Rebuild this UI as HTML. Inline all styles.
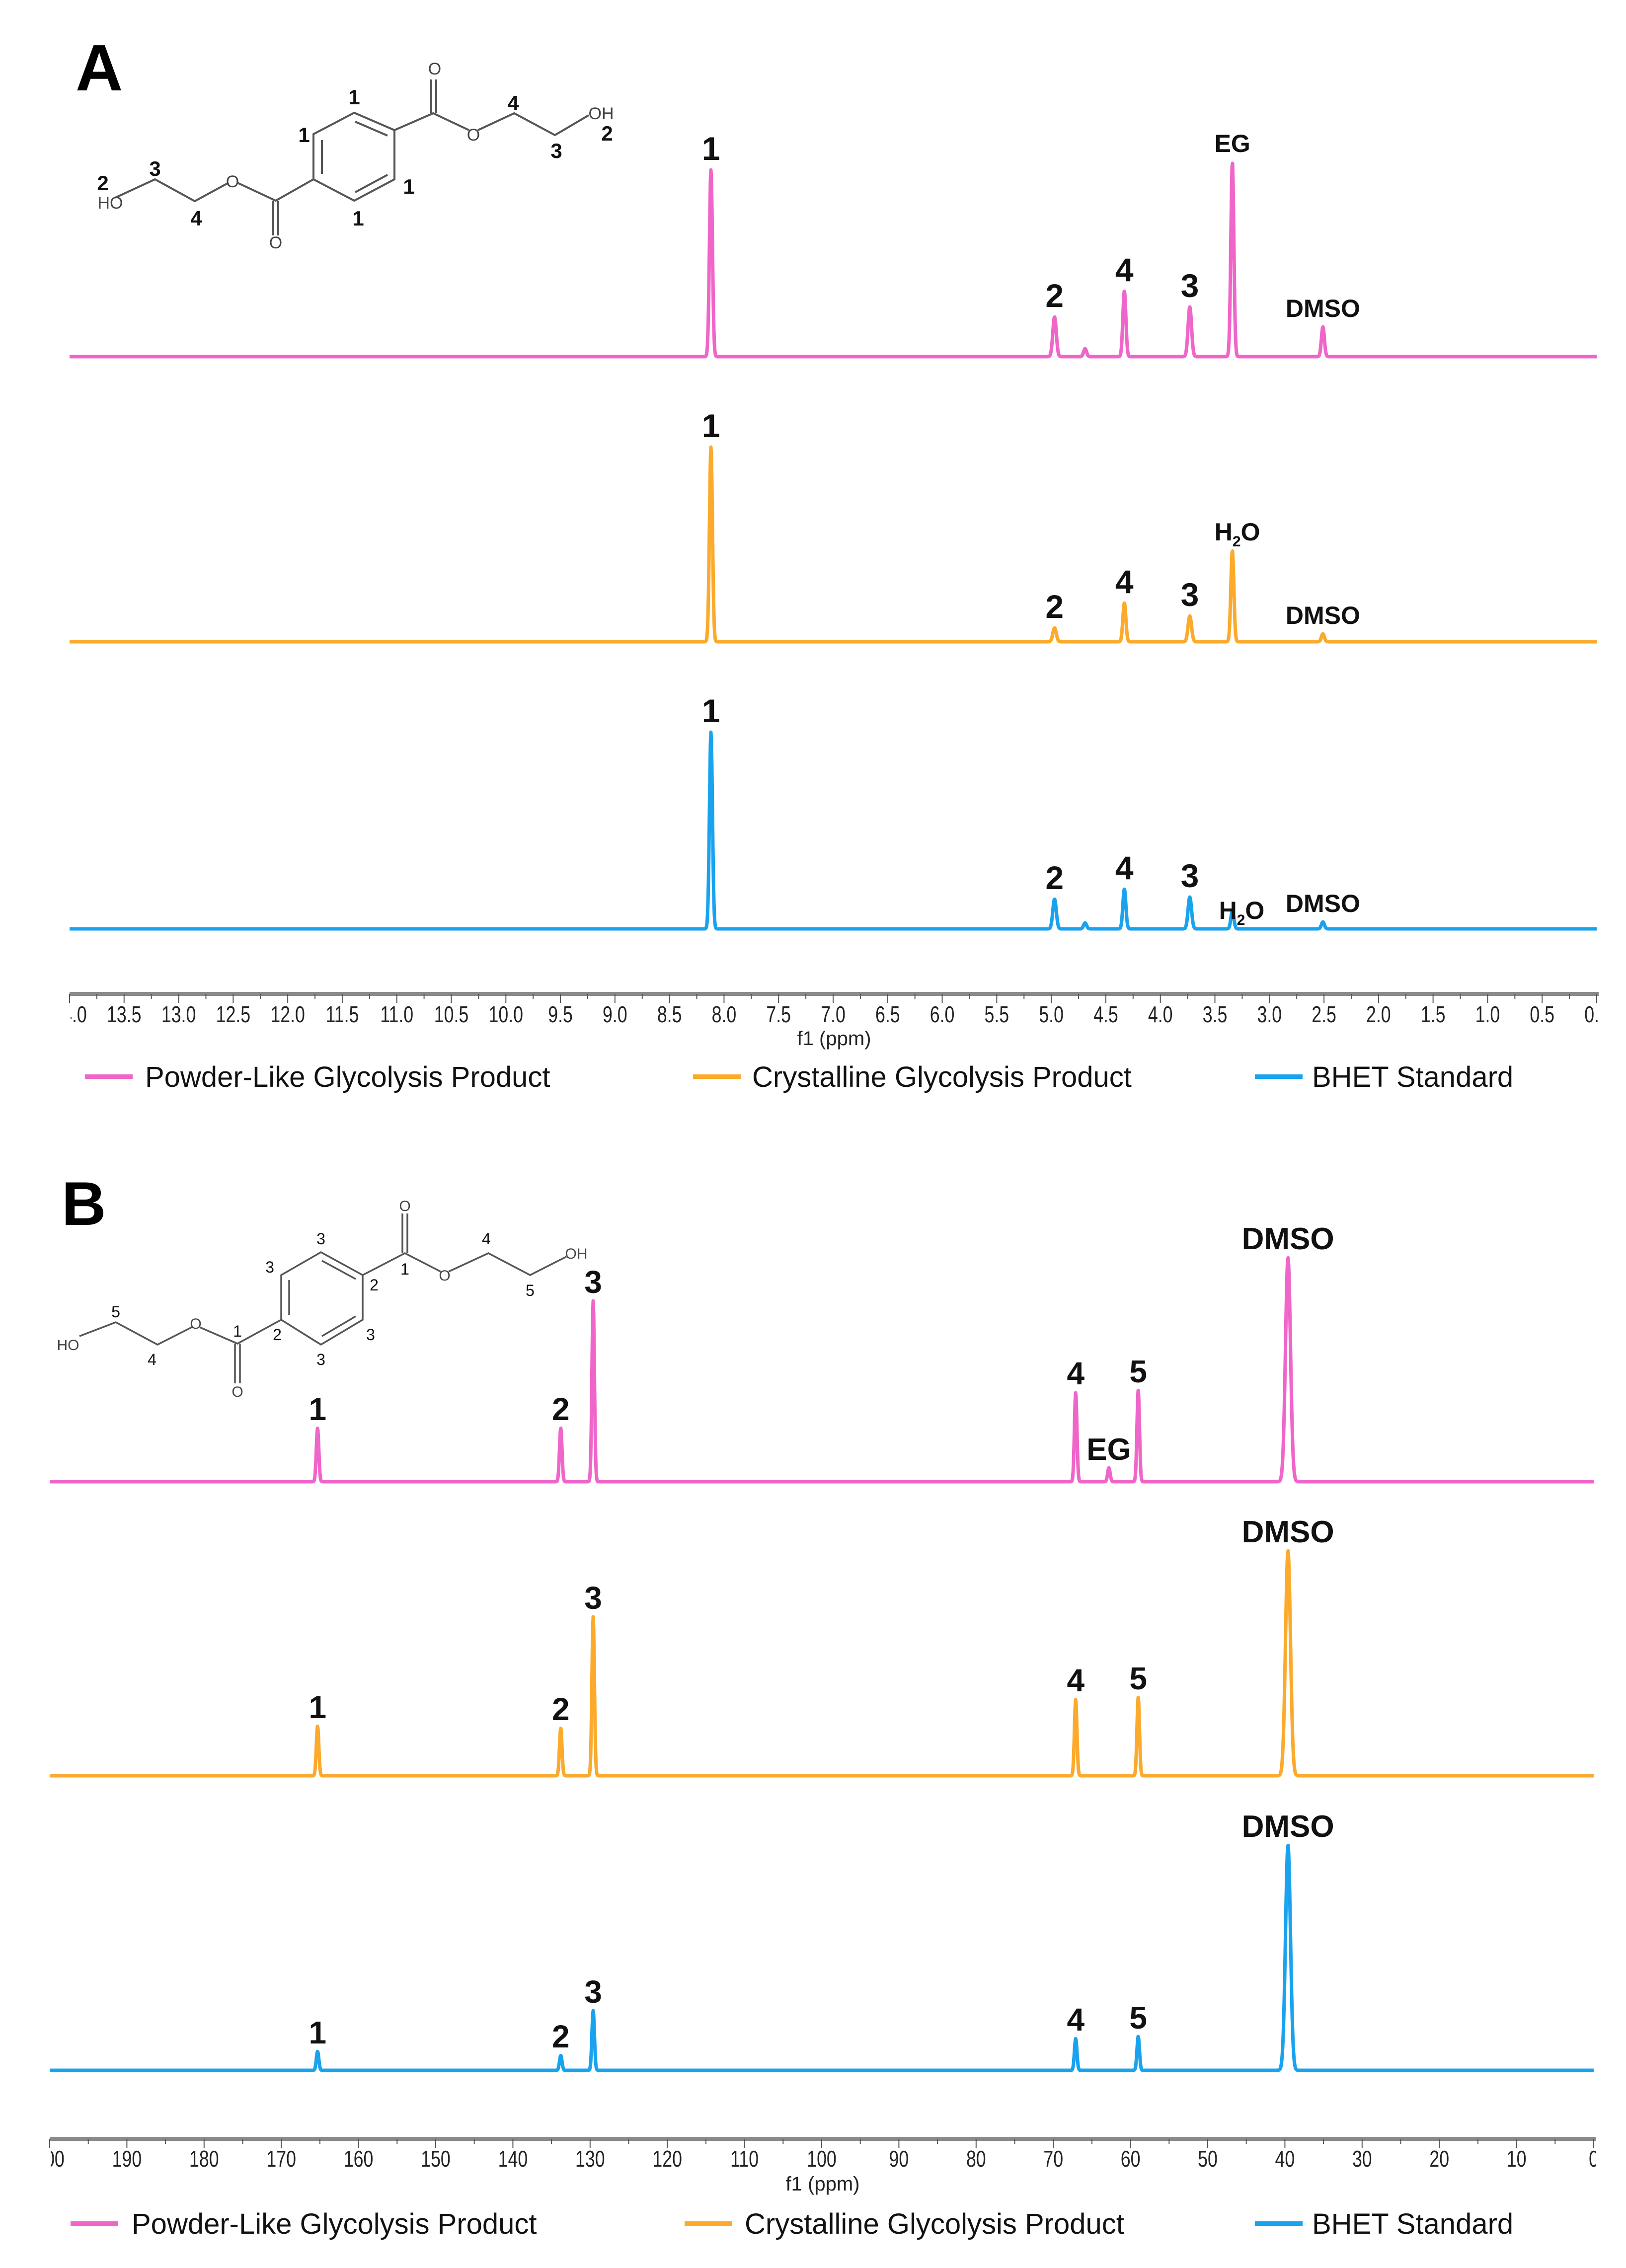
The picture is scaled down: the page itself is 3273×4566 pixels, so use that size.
<!DOCTYPE html>
<html><head><meta charset="utf-8">
<style>
html,body{margin:0;padding:0;background:#fff;overflow:hidden;width:3273px;height:4566px;}
svg{display:block;}
text{font-family:"Liberation Sans",sans-serif;}
</style></head>
<body>
<svg id="fig" width="3273" height="4566" viewBox="0 0 3273 4566" xmlns="http://www.w3.org/2000/svg">
<defs>
<clipPath id="clipA"><rect x="142" y="1950" width="3075" height="150"/></clipPath>
<clipPath id="clipB"><rect x="102" y="4260" width="3110" height="150"/></clipPath>
</defs>
<rect x="0" y="0" width="3273" height="4566" fill="#fff"/>
<text x="152" y="182" font-size="132" font-weight="bold">A</text>
<text x="124" y="2466" font-size="124" font-weight="bold">B</text>

<!-- Structure A -->
<g stroke="#555" stroke-width="4" fill="none">
<polyline points="232,398 312,361 392,405 460,368"/>
<polyline points="478,368 555,404 631,361 631,270 713,227 794,262 794,361 713,404 631,361"/>
<line x1="648" y1="282" x2="648" y2="350"/>
<line x1="715" y1="245" x2="780" y2="273"/>
<line x1="715" y1="387" x2="780" y2="352"/>
<line x1="550" y1="404" x2="550" y2="474"/><line x1="560" y1="404" x2="560" y2="474"/>
<polyline points="794,262 872,228 944,262"/>
<line x1="868" y1="228" x2="868" y2="160"/><line x1="878" y1="228" x2="878" y2="160"/>
<polyline points="962,262 1035,228 1117,272 1185,232"/>
</g>
<g font-size="34" fill="#444" text-anchor="middle">
<text x="222" y="420">HO</text><text x="468" y="377">O</text><text x="555" y="500">O</text>
<text x="875" y="150">O</text><text x="953" y="283">O</text><text x="1210" y="240">OH</text>
</g>
<g font-size="42" font-weight="bold" fill="#111" text-anchor="middle">
<text x="207" y="383">2</text><text x="312" y="354">3</text><text x="395" y="454">4</text>
<text x="713" y="210">1</text><text x="612" y="286">1</text><text x="823" y="390">1</text><text x="721" y="454">1</text>
<text x="1033" y="222">4</text><text x="1120" y="318">3</text><text x="1222" y="283">2</text>
</g>

<!-- Structure B -->
<g stroke="#555" stroke-width="3.5" fill="none">
<polyline points="160,2690 233,2662 317,2707 386,2672"/>
<polyline points="402,2672 478,2705 566,2657 566,2567 646,2521 730,2567 730,2657 646,2707 566,2657"/>
<line x1="582" y1="2577" x2="582" y2="2647"/>
<line x1="648" y1="2538" x2="716" y2="2575"/>
<line x1="648" y1="2690" x2="716" y2="2650"/>
<line x1="473" y1="2705" x2="473" y2="2785"/><line x1="483" y1="2705" x2="483" y2="2785"/>
<polyline points="730,2567 815,2523 887,2560"/>
<line x1="810" y1="2523" x2="810" y2="2443"/><line x1="820" y1="2523" x2="820" y2="2443"/>
<polyline points="903,2560 983,2523 1067,2567 1140,2530"/>
</g>
<g font-size="30" fill="#444" text-anchor="middle">
<text x="137" y="2718">HO</text><text x="394" y="2675">O</text><text x="478" y="2812">O</text>
<text x="815" y="2438">O</text><text x="895" y="2578">O</text><text x="1160" y="2534">OH</text>
</g>
<g font-size="32" fill="#111" text-anchor="middle">
<text x="233" y="2652">5</text><text x="306" y="2748">4</text><text x="478" y="2691">1</text><text x="558" y="2698">2</text>
<text x="646" y="2505">3</text><text x="543" y="2562">3</text><text x="753" y="2598">2</text><text x="815" y="2566">1</text>
<text x="979" y="2505">4</text><text x="1067" y="2609">5</text><text x="746" y="2698">3</text><text x="646" y="2748">3</text>
</g>

<g id="plotA"></g>
<g id="plotB"></g>
</svg>
<script>
// ---------- Panel A (1H NMR) data ----------
const aPeaksPpm = [8.12, 4.97, 4.69, 4.33, 3.73, 3.34, 2.51];
const aPowder = [94, 20, 4, 33, 25, 98, 15];
const aCrystal = [98, 7, 0, 19.5, 13, 46, 4];
const aBhet = [99, 15, 3, 20, 16, 9, 3.5];
const aTickLabels = ["14.0","13.5","13.0","12.5","12.0","11.5","11.0","10.5","10.0","9.5","9.0","8.5","8.0","7.5","7.0","6.5","6.0","5.5","5.0","4.5","4.0","3.5","3.0","2.5","2.0","1.5","1.0","0.5","0.0"];
const aPowderLabels = [["1",8.12,0],["2",4.97,0],["4",4.33,0],["3",3.73,0],["EG",3.34,1],["DMSO",2.51,1]];
const aCrystalLabels = [["1",8.12,0],["2",4.97,0],["4",4.33,0],["3",3.73,0],["H2O",3.34,1],["DMSO",2.51,1]];
const aBhetLabels = [["1",8.12,0],["2",4.97,0],["4",4.33,0],["3",3.73,0],["H2O",3.30,1],["DMSO",2.51,1]];

// ---------- Panel B (13C NMR) data ----------
const bPeaksPpm = [165.3, 133.8, 129.6, 67.1, 62.8, 59.0, 39.6];
const bPowder = [27, 27, 91, 45, 7, 46, 113];
const bCrystal = [25, 24, 80, 38.5, 0, 39.5, 113.5];
const bBhet = [9.5, 7.5, 30, 16, 0, 17, 113.5];
const bTickLabels = ["200","190","180","170","160","150","140","130","120","110","100","90","80","70","60","50","40","30","20","10","0"];
const bPowderLabels = [["1",165.3,0],["2",133.8,0],["3",129.6,0],["4",67.1,0],["EG",62.8,0],["5",59.0,0],["DMSO",39.6,0]];
const bCrystalLabels = [["1",165.3,0],["2",133.8,0],["3",129.6,0],["4",67.1,0],["5",59.0,0],["DMSO",39.6,0]];
const bBhetLabels = [["1",165.3,0],["2",133.8,0],["3",129.6,0],["4",67.1,0],["5",59.0,0],["DMSO",39.6,0]];

const NS = "http://www.w3.org/2000/svg";
const COLORS = {pink:"#F065C9", orange:"#FBAA2C", blue:"#19A3EF"};

function mk(tag, attrs, parent){
  const el = document.createElementNS(NS, tag);
  for (const k in attrs) el.setAttribute(k, attrs[k]);
  parent.appendChild(el);
  return el;
}

function axisX(ppmMax, ppmMin, x0, x1){
  return p => x0 + (ppmMax - p) / (ppmMax - ppmMin) * (x1 - x0);
}
function axisY(base){ return v => base - v * 4; }

function drawTrace(g, name, ppms, vals, widths, sx, sy, x0, x1, color){
  let d = "";
  for (let x = x0; x <= x1; x += 1){
    let v = 0;
    for (let i = 0; i < ppms.length; i++){
      const dx = x - sx(ppms[i]);
      const w = widths[i];
      v += vals[i] * Math.exp(-dx*dx/(2*w*w));
    }
    d += (x === x0 ? "M" : "L") + x + "," + sy(v).toFixed(1);
  }
  const p = mk("path", {d:d, fill:"none", stroke:color, "stroke-width":7, "stroke-linejoin":"round"}, g);
  
  
}

function drawLabels(g, name, labels, ppms, vals, sx, sy, bigSize, smallSize, gap){
  labels.forEach(l => {
    const idx = ppms.indexOf(l[1]);
    const v = idx >= 0 ? vals[idx] : 0;
    const isWord = l[0].length > 1;
    const fs = isWord ? smallSize : bigSize;
    const t = mk("text", {x: sx(l[1]) + (l[0]==="H2O"?10:0), y: sy(v) - gap, "font-size": fs, "font-weight":"bold", "text-anchor":"middle", fill:"#111"}, g);
    
    
    if (l[0] === "H2O"){
      t.appendChild(document.createTextNode("H"));
      const s = mk("tspan", {"font-size": fs*0.6, dy: 12}, t);
      s.textContent = "2";
      const o = mk("tspan", {dy: -12}, t);
      o.textContent = "O";
    } else {
      t.textContent = l[0];
    }
  });
}

function drawAxis(g, name, y, x0, x1, sx, labels, labelVals, minorVals, clipId, labelY, titleY){
  const line = mk("rect", {x:x0, y:y-4, width:x1-x0, height:8, fill:"#8a8a8a"}, g);
  
  
  minorVals.forEach(v => {
    const t = mk("line", {x1:sx(v), x2:sx(v), y1:y, y2:y+10, stroke:"#555", "stroke-width":2}, g);
    
    
  });
  const lg = mk("g", {"clip-path":"url(#"+clipId+")"}, g);
  labelVals.forEach((v,i) => {
    const t = mk("line", {x1:sx(v), x2:sx(v), y1:y, y2:y+18, stroke:"#555", "stroke-width":2}, g);
    
    
    const cx = sx(v);
    const tx = mk("text", {x:0, y:0, "font-size":42, "text-anchor":"middle", fill:"#222", transform:"translate("+cx+","+labelY+") scale(0.85,1.1)"}, lg);
    
    
    tx.textContent = labels[i];
  });
  const title = mk("text", {x:(x0+x1)/2, y:titleY, "font-size":40, "text-anchor":"middle", fill:"#222"}, g);
  
  
  title.textContent = "f1 (ppm)";
}

function drawLegend(g, name, y, items){
  items.forEach(it => {
    const sw = mk("rect", {x:it[0], y:y-5, width:96, height:9, fill:it[2]}, g);
    
    
    const t = mk("text", {x:it[1], y:y+20, "font-size":58, fill:"#111"}, g);
    
    
    t.textContent = it[3];
  });
}

// Panel A
(function(){
  const g = document.getElementById("plotA");
  const x0 = 140, x1 = 3214;
  const sx = axisX(14, 0, x0, x1);
  const widthsA = [3, 3.5, 3, 3, 3.5, 3, 3];
  const series = [
    ["powder-like-trace", aPowder, 718, COLORS.pink, aPowderLabels],
    ["crystalline-trace", aCrystal, 1292, COLORS.orange, aCrystalLabels],
    ["bhet-standard-trace", aBhet, 1870, COLORS.blue, aBhetLabels]
  ];
  series.forEach(s => {
    const sy = axisY(s[2]);
    drawTrace(g, s[0], aPeaksPpm, s[1], widthsA, sx, sy, x0, x1, s[3]);
    drawLabels(g, s[0], s[4], aPeaksPpm, s[1], sx, sy, 66, 50, 20);
  });
  const vals = aTickLabels.map(parseFloat);
  const minor = vals.slice(0,-1).map(v => v - 0.25);
  drawAxis(g, "x-axis-a", 2001, x0, x1+4, sx, aTickLabels, vals, minor, "clipA", 2058, 2104);
  drawLegend(g, "legend-a", 2168, [[171,292,COLORS.pink,"Powder-Like Glycolysis Product"],[1395,1514,COLORS.orange,"Crystalline Glycolysis Product"],[2526,2641,COLORS.blue,"BHET Standard"]]);
})();

// Panel B
(function(){
  const g = document.getElementById("plotB");
  const x0 = 100, x1 = 3208;
  const sx = axisX(200, 0, x0, x1);
  const widthsB = [2.5, 2.5, 2.5, 2.5, 2.5, 2.5, 5];
  const series = [
    ["powder-like-13c-trace", bPowder, 2983, COLORS.pink, bPowderLabels],
    ["crystalline-13c-trace", bCrystal, 3575, COLORS.orange, bCrystalLabels],
    ["bhet-standard-13c-trace", bBhet, 4168, COLORS.blue, bBhetLabels]
  ];
  series.forEach(s => {
    const sy = axisY(s[2]);
    drawTrace(g, s[0], bPeaksPpm, s[1], widthsB, sx, sy, x0, x1, s[3]);
    drawLabels(g, s[0], s[4], bPeaksPpm, s[1], sx, sy, 64, 62, 16);
  });
  const vals = bTickLabels.map(parseFloat);
  const minor = vals.slice(0,-1).map(v => v - 5);
  drawAxis(g, "x-axis-b", 4306, x0, x1+4, sx, bTickLabels, vals, minor, "clipB", 4362, 4410);
  drawLegend(g, "legend-b", 4477, [[142,265,COLORS.pink,"Powder-Like Glycolysis Product"],[1378,1499,COLORS.orange,"Crystalline Glycolysis Product"],[2526,2641,COLORS.blue,"BHET Standard"]]);
})();
</script>
</body></html>
